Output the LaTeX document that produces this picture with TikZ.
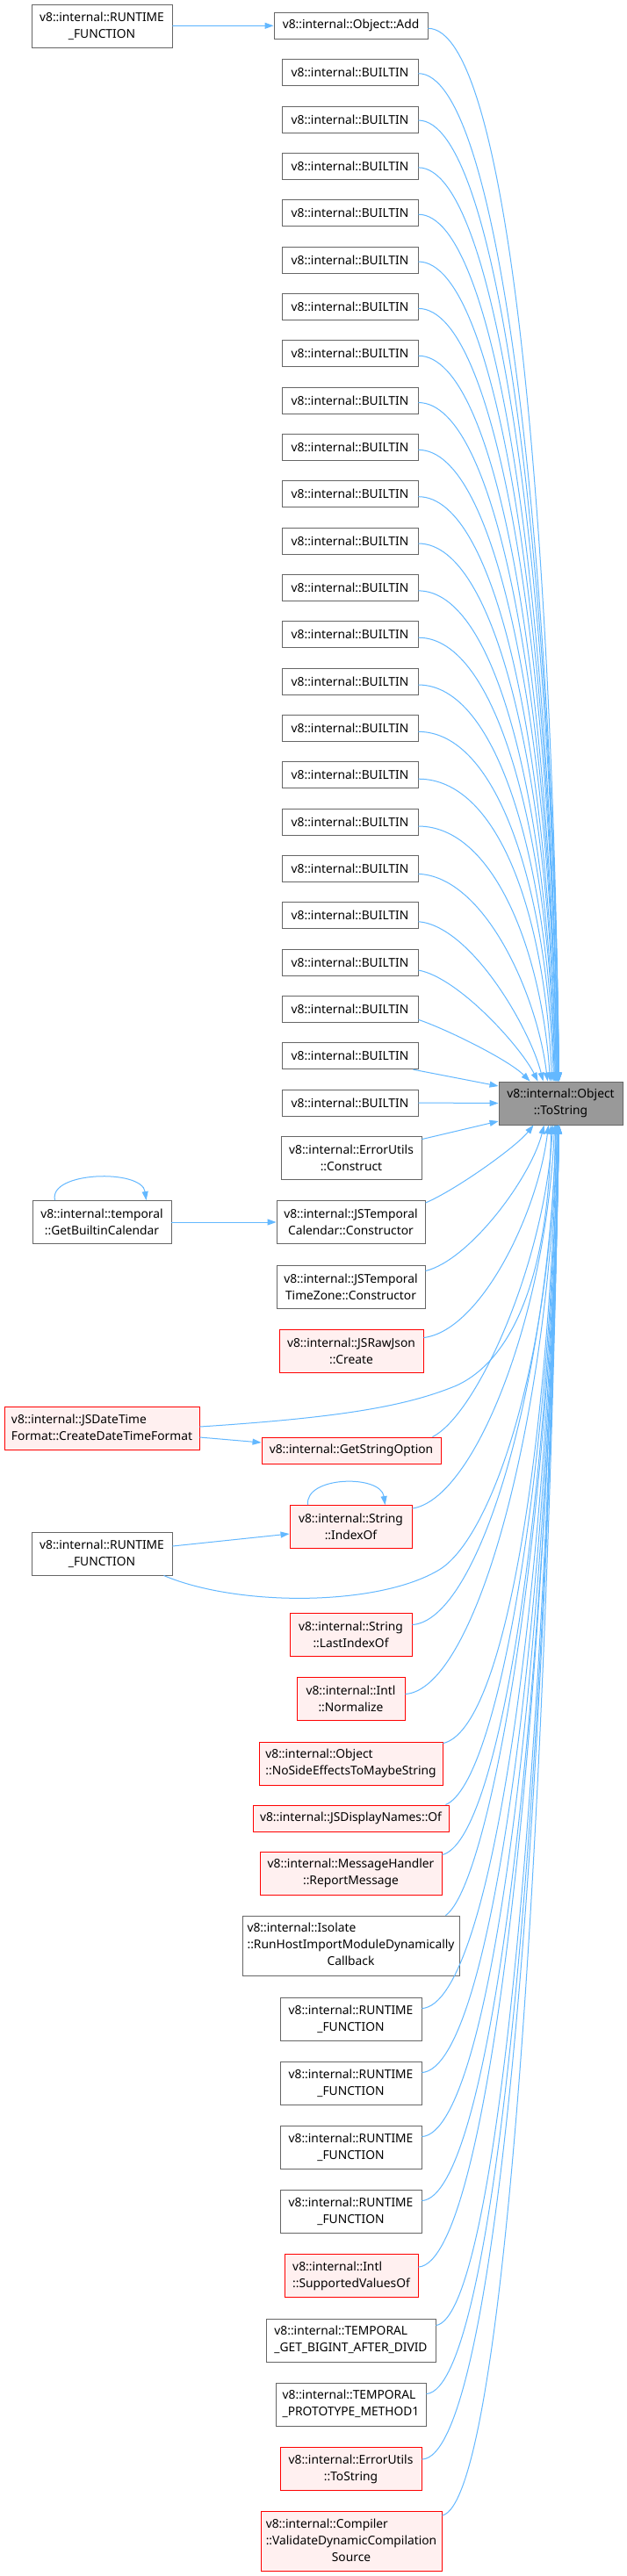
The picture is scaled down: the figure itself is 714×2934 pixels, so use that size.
\documentclass[tikz,border=0pt]{standalone}
\usepackage{fontspec}
\setmainfont{Noto Sans}
\usetikzlibrary{arrows.meta,calc}
\definecolor{edgec}{HTML}{63B8FF}
\definecolor{bordc}{HTML}{666666}
\definecolor{redfill}{HTML}{FFF0F0}
\definecolor{tsfill}{HTML}{999999}
\newcommand\ndfont{\fontsize{13.8}{19}\selectfont}
\newcommand\leftlines[1]{\begin{tabular}{@{}l@{}}#1\end{tabular}}
\tikzset{
  box/.style={draw=bordc, fill=white, line width=0.9pt, inner sep=0pt, align=center, font=\ndfont, text=black},
  redbox/.style={box, draw=red, fill=redfill},
  hone/.style={minimum height=30pt},
  htwo/.style={minimum height=49pt},
  hthree/.style={minimum height=68pt},
  edg/.style={draw=edgec, line width=1pt, -{Triangle[length=10pt,width=7pt]}},
}
\begin{document}
\begin{tikzpicture}[x=1pt,y=-1pt]
\fill[white] (0,0) rectangle (714,2934);
\useasboundingbox (0,0) rectangle (714,2934);

% ---- nodes ----
\node[box,htwo,minimum width=160pt] (rf0) at (116,29.5) {v8::internal::RUNTIME\\\_FUNCTION};
\node[box,hone,minimum width=175pt] (add) at (399.5,29.3) {v8::internal::Object::Add};
\foreach \i in {0,...,22}
  \node[box,hone,minimum width=155pt] (b\i) at (398.5,{82.7+53.333*\i}) {v8::internal::BUILTIN};
\node[box,htwo,minimum width=141pt,fill=tsfill] (ts) at (638.5,1256.5) {v8::internal::Object\\::ToString};
\node[box,htwo,minimum width=160pt] (euc) at (400,1318.5) {v8::internal::ErrorUtils\\::Construct};
\node[box,htwo,minimum width=158pt] (gbc) at (116,1392) {v8::internal::temporal\\::GetBuiltinCalendar};
\node[box,htwo,minimum width=169pt] (tcc) at (399.5,1392) {v8::internal::JSTemporal\\Calendar::Constructor};
\node[box,htwo,minimum width=169pt] (tzc) at (399.5,1465.5) {v8::internal::JSTemporal\\TimeZone::Constructor};
\node[redbox,htwo,minimum width=164pt] (rj) at (400,1538.5) {v8::internal::JSRawJson\\::Create};
\node[redbox,htwo,minimum width=222pt] (cdtf) at (116,1627) {\leftlines{v8::internal::JSDateTime\\Format::CreateDateTimeFormat}};
\node[redbox,hone,minimum width=204pt] (gso) at (400,1652) {v8::internal::GetStringOption};
\node[redbox,htwo,minimum width=139pt] (idx) at (399.5,1739) {v8::internal::String\\::IndexOf};
\node[box,htwo,minimum width=160pt] (rf1) at (116,1769.5) {v8::internal::RUNTIME\\\_FUNCTION};
\node[redbox,htwo,minimum width=139pt] (lidx) at (399.5,1861.5) {v8::internal::String\\::LastIndexOf};
\node[redbox,htwo,minimum width=123pt] (norm) at (399.5,1934.5) {v8::internal::Intl\\::Normalize};
\node[redbox,htwo,minimum width=209pt] (nse) at (399.5,2008.5) {\leftlines{v8::internal::Object\\::NoSideEffectsToMaybeString}};
\node[redbox,hone,minimum width=223pt] (jdn) at (399.5,2071) {v8::internal::JSDisplayNames::Of};
\node[redbox,htwo,minimum width=207pt] (mh) at (399.5,2133.5) {v8::internal::MessageHandler\\::ReportMessage};
\node[box,hthree,minimum width=247pt] (iso) at (399.5,2216) {\leftlines{v8::internal::Isolate\\::RunHostImportModuleDynamically\\\multicolumn{1}{@{}c@{}}{Callback}}};
\node[box,htwo,minimum width=161pt] (rf2) at (399.5,2299.5) {v8::internal::RUNTIME\\\_FUNCTION};
\node[box,htwo,minimum width=161pt] (rf3) at (399.5,2372.5) {v8::internal::RUNTIME\\\_FUNCTION};
\node[box,htwo,minimum width=161pt] (rf4) at (399.5,2445.5) {v8::internal::RUNTIME\\\_FUNCTION};
\node[box,htwo,minimum width=161pt] (rf5) at (399.5,2518.5) {v8::internal::RUNTIME\\\_FUNCTION};
\node[redbox,htwo,minimum width=152pt] (svo) at (400,2592) {\leftlines{v8::internal::Intl\\::SupportedValuesOf}};
\node[box,htwo,minimum width=193pt] (tgb) at (399.5,2665.5) {\leftlines{v8::internal::TEMPORAL\\\_GET\_BIGINT\_AFTER\_DIVID}};
\node[box,htwo,minimum width=171pt] (tpm) at (399.5,2738.5) {\leftlines{v8::internal::TEMPORAL\\\_PROTOTYPE\_METHOD1}};
\node[redbox,htwo,minimum width=161pt] (eut) at (399.5,2812) {v8::internal::ErrorUtils\\::ToString};
\node[redbox,hthree,minimum width=206pt] (vdc) at (400,2894.5) {\leftlines{v8::internal::Compiler\\::ValidateDynamicCompilation\\\multicolumn{1}{@{}c@{}}{Source}}};

% ---- straight / local edges ----
\draw[edg] (rf0.east) -- (add.west);
\draw[edg] (gbc.east) -- (tcc.west);
\draw[edg] ($(cdtf.east)+(0,10)$) -- ($(gso.west)+(0,-9)$);
\draw[edg] ($(rf1.east)+(0,-8.5)$) -- ($(idx.west)+(0,8)$);
\draw[edg] ($(gbc.north west)+(26,0)$) .. controls +(-8,-33) and +(-5,-36) .. ($(gbc.north west)+(130,0)$);
\draw[edg] ($(idx.north west)+(21,0)$) .. controls +(-4,-33) and +(-5,-35) .. ($(idx.north west)+(109,0)$);

% ---- edges into ToString from above ----
\draw[edg] ($(add.east)+(0,3)$) .. controls +(90,0) and +(-8,-661) .. ($(ts.north west)+(69,0)$);
\draw[edg] ($(b0.east)+(0,1)$) .. controls +(90,0) and +(-8,-632) .. ($(ts.north west)+(69,0)$);
\draw[edg] ($(b1.east)+(0,1)$) .. controls +(90,0) and +(-8,-603) .. ($(ts.north west)+(69,0)$);
\draw[edg] ($(b2.east)+(0,1.5)$) .. controls +(90,0) and +(-8,-573) .. ($(ts.north west)+(69,0)$);
\draw[edg] ($(b3.east)+(0,1.5)$) .. controls +(90,0) and +(-8,-544) .. ($(ts.north west)+(68,0)$);
\draw[edg] ($(b4.east)+(0,2)$) .. controls +(90,0) and +(-8,-515) .. ($(ts.north west)+(68,0)$);
\draw[edg] ($(b5.east)+(0,2)$) .. controls +(90,0) and +(-8,-485) .. ($(ts.north west)+(68,0)$);
\draw[edg] ($(b6.east)+(0,2.5)$) .. controls +(90,0) and +(-8,-456) .. ($(ts.north west)+(67,0)$);
\draw[edg] ($(b7.east)+(0,2.5)$) .. controls +(90,0) and +(-8,-427) .. ($(ts.north west)+(67,0)$);
\draw[edg] ($(b8.east)+(0,3)$) .. controls +(90,0) and +(-8,-397) .. ($(ts.north west)+(67,0)$);
\draw[edg] ($(b9.east)+(0,3)$) .. controls +(90,0) and +(-8,-368) .. ($(ts.north west)+(66,0)$);
\draw[edg] ($(b10.east)+(0,3)$) .. controls +(90,0) and +(-8,-339) .. ($(ts.north west)+(66,0)$);
\draw[edg] ($(b11.east)+(0,3.5)$) .. controls +(90,0) and +(-8,-309) .. ($(ts.north west)+(65,0)$);
\draw[edg] ($(b12.east)+(0,3.5)$) .. controls +(90,0) and +(-8,-280) .. ($(ts.north west)+(65,0)$);
\draw[edg] ($(b13.east)+(0,4)$) .. controls +(90,0) and +(-8,-251) .. ($(ts.north west)+(64,0)$);
\draw[edg] ($(b14.east)+(0,4)$) .. controls +(90,0) and +(-8,-221) .. ($(ts.north west)+(63,0)$);
\draw[edg] ($(b15.east)+(0,4.5)$) .. controls +(90,0) and +(-8,-192) .. ($(ts.north west)+(61,0)$);
\draw[edg] ($(b16.east)+(0,5)$) .. controls +(85,0) and +(-10,-150) .. ($(ts.north west)+(59,0)$);
\draw[edg] ($(b17.east)+(0,6)$) .. controls +(75,3) and +(-12,-100) .. ($(ts.north west)+(56,0)$);
\draw[edg] ($(b18.east)+(0,7)$) .. controls +(60,5) and +(-15,-60) .. ($(ts.north west)+(51,0)$);
\draw[edg] ($(b19.east)+(0,9)$) .. controls +(45,8) and +(-20,-40) .. ($(ts.north west)+(45,0)$);
\draw[edg] ($(b20.east)+(0,12)$) .. controls +(30,10) and +(-25,-25) .. ($(ts.north west)+(36,0)$);

% ---- edges into ToString from the left ----
\draw[edg] ($(b21.south east)+(-6,0)$) -- ($(ts.west)+(0,-19.5)$);
\draw[edg] (b22.east) -- (ts.west);
\draw[edg] ($(euc.north east)+(0,4)$) -- ($(ts.west)+(0,20.5)$);

% ---- edges into ToString from below ----
\draw[edg] ($(tcc.north east)+(0,3)$) .. controls +(35,-15) and +(-20,25) .. ($(ts.south west)+(40,0)$);
\draw[edg] ($(tzc.north east)+(0,7)$) .. controls +(50,-12) and +(-15,60) .. ($(ts.south west)+(52,0)$);
\draw[edg] ($(rj.north east)+(0,10)$) .. controls +(65,-8) and +(-12,100) .. ($(ts.south west)+(57,0)$);
\draw[edg] ($(cdtf.east)+(0,-2)$) .. controls (380,1615) and (460,1603) .. (520,1578) .. controls (585,1548) and (625,1450) .. ($(ts.south west)+(60,0)$);
\draw[edg] ($(gso.north east)+(-10,0)$) .. controls +(50,-25) and +(-10,160) .. ($(ts.south west)+(62,0)$);
\draw[edg] ($(idx.north east)+(0,4)$) .. controls +(70,-10) and +(-10,220) .. ($(ts.south west)+(64,0)$);
\draw[edg] ($(rf1.south east)+(-10,0)$) .. controls (270,1830) and (430,1830) .. (500,1788) .. controls (560,1752) and (628,1550) .. ($(ts.south west)+(65,0)$);
\draw[edg] ($(lidx.north east)+(0,14)$) .. controls +(75,-5) and +(-10,300) .. ($(ts.south west)+(66,0)$);
\draw[edg] ($(norm.east)+(0,-5)$) .. controls +(80,-5) and +(-10,340) .. ($(ts.south west)+(67,0)$);
\draw[edg] ($(nse.north east)+(0,2)$) .. controls +(70,-15) and +(-10,370) .. ($(ts.south west)+(67,0)$);
\draw[edg] ($(jdn.north east)+(-4,0)$) .. controls +(60,-25) and +(-10,400) .. ($(ts.south west)+(68,0)$);
\draw[edg] ($(mh.north east)+(0,4)$) .. controls +(65,-15) and +(-10,430) .. ($(ts.south west)+(68,0)$);
\draw[edg] ($(iso.north east)+(-16,0)$) .. controls +(50,-35) and +(-10,470) .. ($(ts.south west)+(69,0)$);
\draw[edg] ($(rf2.north east)+(0,13)$) .. controls +(80,-5) and +(-12,520) .. ($(ts.south west)+(69,0)$);
\draw[edg] ($(rf3.north east)+(0,13)$) .. controls +(80,-5) and +(-12,560) .. ($(ts.south west)+(69,0)$);
\draw[edg] ($(rf4.north east)+(0,13)$) .. controls +(80,-5) and +(-12,600) .. ($(ts.south west)+(69,0)$);
\draw[edg] ($(rf5.north east)+(0,13)$) .. controls +(80,-5) and +(-12,640) .. ($(ts.south west)+(69,0)$);
\draw[edg] ($(svo.north east)+(0,15)$) .. controls +(80,-5) and +(-14,680) .. ($(ts.south west)+(69,0)$);
\draw[edg] ($(tgb.north east)+(0,8)$) .. controls +(70,-10) and +(-14,710) .. ($(ts.south west)+(69,0)$);
\draw[edg] ($(tpm.north east)+(0,13)$) .. controls +(80,-5) and +(-14,750) .. ($(ts.south west)+(69,0)$);
\draw[edg] ($(eut.north east)+(0,14)$) .. controls +(85,-2) and +(-15,790) .. ($(ts.south west)+(69,0)$);
\draw[edg] ($(vdc.north east)+(0,5)$) .. controls +(70,-15) and +(-15,820) .. ($(ts.south west)+(69,0)$);
\end{tikzpicture}
\end{document}
